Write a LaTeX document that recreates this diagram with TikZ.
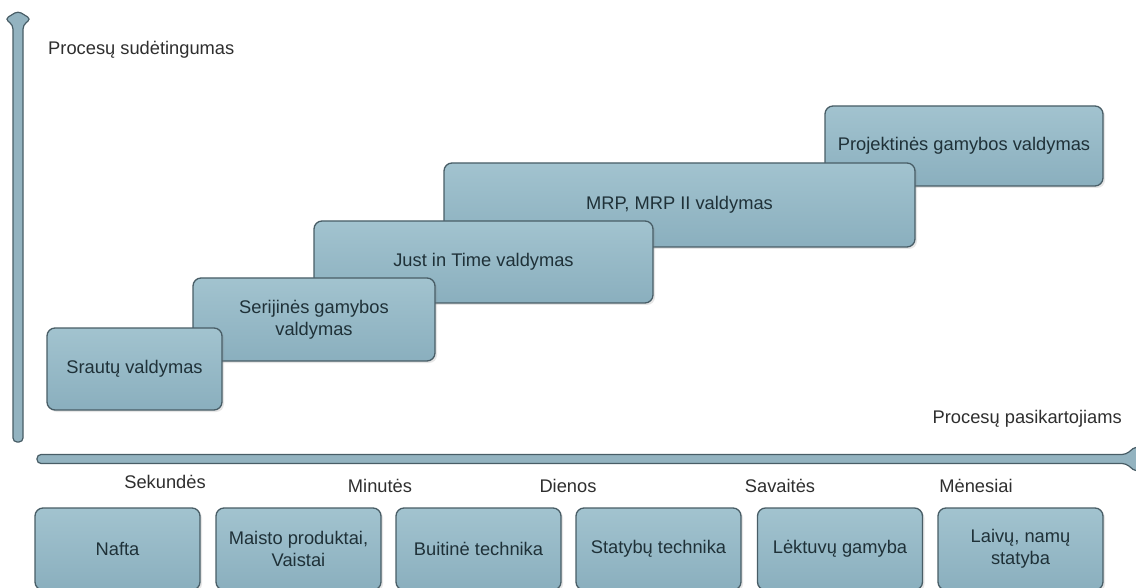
\documentclass[tikz,border=0pt]{standalone}
\usepackage{fontspec}
\setmainfont{Liberation Sans}
\usetikzlibrary{shadows}
\definecolor{boxtop}{HTML}{A2C3CF}
\definecolor{boxbot}{HTML}{8AAFBE}
\definecolor{boxline}{HTML}{485D66}
\definecolor{boxtext}{HTML}{1F3138}
\definecolor{labeltext}{HTML}{2E2E2E}
\definecolor{axisfill}{HTML}{93B3C0}
\begin{document}
\begin{tikzpicture}[x=1pt,y=-1pt,
  stagebox/.style={draw=boxline, line width=1.3pt, rounded corners=8pt,
    top color=boxtop, bottom color=boxbot, text=boxtext,
    font=\fontsize{18.3}{22}\selectfont, align=center, inner sep=0pt,
    drop shadow={opacity=0.2, shadow xshift=2pt, shadow yshift=-2pt}},
  scalelabel/.style={text=labeltext, font=\fontsize{18.3}{22}\selectfont, inner sep=0pt},
  axisshape/.style={draw=boxline, line width=1.2pt, fill=axisfill, rounded corners=4pt}]
\useasboundingbox (0,0) rectangle (1136,588);

% axes
\path[axisshape] (13,442) -- (13,25) -- (5,19) -- (18,11) -- (31,19)
  -- (23,25) -- (23,442) -- cycle;
\path[axisshape] (37,454.5) -- (1126,454.5) -- (1136,446) -- (1152,459)
  -- (1136,472) -- (1126,463.5) -- (37,463.5) -- cycle;

\node[scalelabel, anchor=west] (ylab) at (48,50) {Procesų sudėtingumas};
\node[scalelabel, anchor=east] (xlab) at (1122,419) {Procesų pasikartojiams};

% staircase of control methods (drawn back to front)
\node[stagebox, minimum width=278pt, minimum height=80pt] (proj) at (964,146) {Projektinės gamybos valdymas};
\node[stagebox, minimum width=471pt, minimum height=84pt] (mrp) at (679.5,205) {MRP, MRP II valdymas};
\node[stagebox, minimum width=339pt, minimum height=82pt] (jit) at (483.5,262) {Just in Time valdymas};
\node[stagebox, minimum width=242pt, minimum height=83pt] (seri) at (314,319.5) {Serijinės gamybos\\valdymas};
\node[stagebox, minimum width=175pt, minimum height=82pt] (sraut) at (134.5,369) {Srautų valdymas};

% time scale
\node[scalelabel] (sek) at (165,482) {Sekundės};
\node[scalelabel] (min) at (380,486) {Minutės};
\node[scalelabel] (dien) at (568,486) {Dienos};
\node[scalelabel] (sav) at (780,486) {Savaitės};
\node[scalelabel] (men) at (976,486) {Mėnesiai};

% industries
\node[stagebox, minimum width=165pt, minimum height=82pt] (nafta) at (117.5,549) {Nafta};
\node[stagebox, minimum width=165pt, minimum height=82pt] (maist) at (298.5,549) {Maisto produktai,\\Vaistai};
\node[stagebox, minimum width=165pt, minimum height=82pt] (buit) at (478.5,549) {Buitinė technika};
\node[stagebox, minimum width=165pt, minimum height=82pt] (stat) at (658.5,549) {Statybų technika};
\node[stagebox, minimum width=165pt, minimum height=82pt] (lekt) at (840,549) {Lėktuvų gamyba};
\node[stagebox, minimum width=165pt, minimum height=82pt] (laiv) at (1020.5,549) {Laivų, namų\\statyba};
\end{tikzpicture}
\end{document}
